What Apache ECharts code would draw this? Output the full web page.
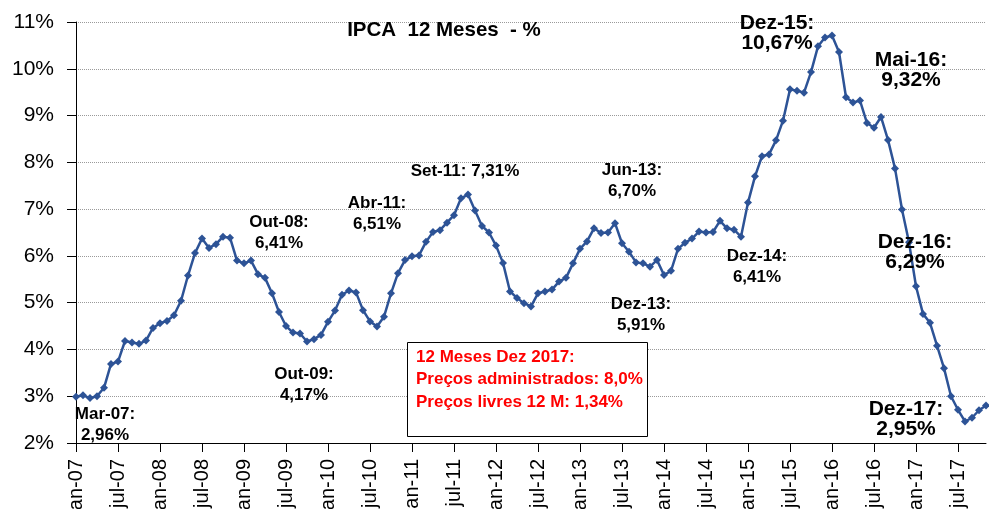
<!DOCTYPE html>
<html>
<head>
<meta charset="utf-8">
<script src="https://cdn.jsdelivr.net/npm/echarts@6/dist/echarts.min.js"></script>
<style>
html,body{margin:0;padding:0;background:#fff;overflow:hidden;}
#chart{width:989px;height:509px;}
</style>
</head>
<body>
<div id="chart"></div>
<script>
// IPCA 12-month accumulated (%), monthly, Jan-2007 .. Nov-2017
var years = ['07','08','09','10','11','12','13','14','15','16','17'];
var monthNames = ['jan','fev','mar','abr','mai','jun','jul','ago','set','out','nov','dez'];
var ipca2007 = [2.99, 3.02, 2.96, 3.00, 3.18, 3.69, 3.74, 4.18, 4.15, 4.12, 4.19, 4.46];
var ipca2008 = [4.56, 4.61, 4.73, 5.04, 5.58, 6.06, 6.37, 6.17, 6.25, 6.41, 6.39, 5.90];
var ipca2009 = [5.84, 5.90, 5.61, 5.53, 5.20, 4.80, 4.50, 4.36, 4.34, 4.17, 4.22, 4.31];
var ipca2010 = [4.59, 4.83, 5.17, 5.26, 5.22, 4.84, 4.60, 4.49, 4.70, 5.20, 5.63, 5.91];
var ipca2011 = [5.99, 6.01, 6.30, 6.51, 6.55, 6.71, 6.87, 7.23, 7.31, 6.97, 6.64, 6.50];
var ipca2012 = [6.22, 5.85, 5.24, 5.10, 4.99, 4.92, 5.20, 5.24, 5.28, 5.45, 5.53, 5.84];
var ipca2013 = [6.15, 6.31, 6.59, 6.49, 6.50, 6.70, 6.27, 6.09, 5.86, 5.84, 5.77, 5.91];
var ipca2014 = [5.59, 5.68, 6.15, 6.28, 6.37, 6.52, 6.50, 6.51, 6.75, 6.59, 6.56, 6.41];
var ipca2015 = [7.14, 7.70, 8.13, 8.17, 8.47, 8.89, 9.56, 9.53, 9.49, 9.93, 10.48, 10.67];
var ipca2016 = [10.71, 10.36, 9.39, 9.28, 9.32, 8.84, 8.74, 8.97, 8.48, 7.87, 6.99, 6.29];
var ipca2017 = [5.35, 4.76, 4.57, 4.08, 3.60, 3.00, 2.71, 2.46, 2.54, 2.70, 2.80];

var yTicks = ['2%','3%','4%','5%','6%','7%','8%','9%','10%','11%'];
var titleText = 'IPCA  12 Meses  - %';
var boxLines = ['12 Meses Dez 2017:', 'Preços administrados: 8,0%', 'Preços livres 12 M: 1,34%'];
var annotations = [
  'Mar-07:\n2,96%', 'Out-09:\n4,17%', 'Out-08:\n6,41%', 'Abr-11:\n6,51%',
  'Set-11: 7,31%', 'Jun-13:\n6,70%', 'Dez-13:\n5,91%', 'Dez-14:\n6,41%',
  'Dez-15:\n10,67%', 'Mai-16:\n9,32%', 'Dez-16:\n6,29%', 'Dez-17:\n2,95%'
];

var values = [].concat(ipca2007, ipca2008, ipca2009, ipca2010, ipca2011, ipca2012,
  ipca2013, ipca2014, ipca2015, ipca2016, ipca2017);
var categories = [];
for (var i = 0; i < values.length; i++) {
  categories.push(monthNames[i % 12] + '-' + years[Math.floor(i / 12)]);
}

// annotation placement (pixel centres) and sizes
var annLayout = [
  [105, 425, 17], [304, 385, 17], [279, 233, 17], [377, 214, 17],
  [465, 171, 17], [632, 181, 17], [641, 315, 17], [757, 267, 17],
  [777, 33, 21], [911, 70, 21], [915, 252, 21], [906, 419, 21]
];
var FONT = '"Liberation Sans", Arial, sans-serif';
var graphics = [];
annotations.forEach(function (t, k) {
  var L = annLayout[k];
  graphics.push({
    type: 'text', x: L[0], y: L[1], z: 100,
    style: {
      text: t, fill: '#000', font: 'bold ' + L[2] + 'px ' + FONT,
      align: 'center', verticalAlign: 'middle', lineHeight: L[2] >= 20 ? 20 : 21
    }
  });
});
graphics.push({
  type: 'text', x: 444, y: 30, z: 100,
  style: { text: titleText, fill: '#000', font: 'bold 20.5px ' + FONT, align: 'center', verticalAlign: 'middle' }
});
graphics.push({
  type: 'rect', z: 90, shape: { x: 407.5, y: 342.5, width: 240, height: 94 },
  style: { fill: '#fff', stroke: '#000', lineWidth: 1 }
});
graphics.push({
  type: 'text', x: 416, y: 346, z: 100,
  style: { text: boxLines.join('\n'), fill: '#FF0000', font: 'bold 17px ' + FONT,
    align: 'left', verticalAlign: 'top', lineHeight: 22.5 }
});

var chart = echarts.init(document.getElementById('chart'), null, { renderer: 'canvas' });
chart.setOption({
  animation: false,
  backgroundColor: '#fff',
  grid: { left: 76, right: 3, top: 22, bottom: 66, containLabel: false, outerBoundsMode: 'none' },
  xAxis: {
    type: 'category',
    data: categories,
    boundaryGap: false,
    axisLine: { show: true, onZero: false, lineStyle: { color: '#000', width: 1 } },
    axisTick: { show: true, interval: 5, length: 9, lineStyle: { color: '#000' } },
    axisLabel: {
      interval: 5, rotate: 90, margin: 16, color: '#000',
      fontSize: 20, fontFamily: FONT
    },
    splitLine: { show: false }
  },
  yAxis: {
    type: 'value',
    min: 2, max: 11, interval: 1,
    axisLine: { show: true, lineStyle: { color: '#000', width: 1 } },
    axisTick: { show: true, length: 9, lineStyle: { color: '#000' } },
    axisLabel: {
      margin: 22, color: '#000', fontSize: 21, fontFamily: FONT,
      formatter: function (v) { return yTicks[Math.round(v - 2)]; }
    },
    splitLine: { show: true, lineStyle: { type: 'dotted', color: '#9a9a9a', width: 1 } }
  },
  series: [{
    type: 'line',
    data: values,
    symbol: 'diamond',
    symbolSize: 8,
    showAllSymbol: true,
    lineStyle: { color: '#2D5396', width: 2.5 },
    itemStyle: { color: '#2D5396' },
    z: 10
  }],
  graphic: graphics
});
</script>
</body>
</html>
